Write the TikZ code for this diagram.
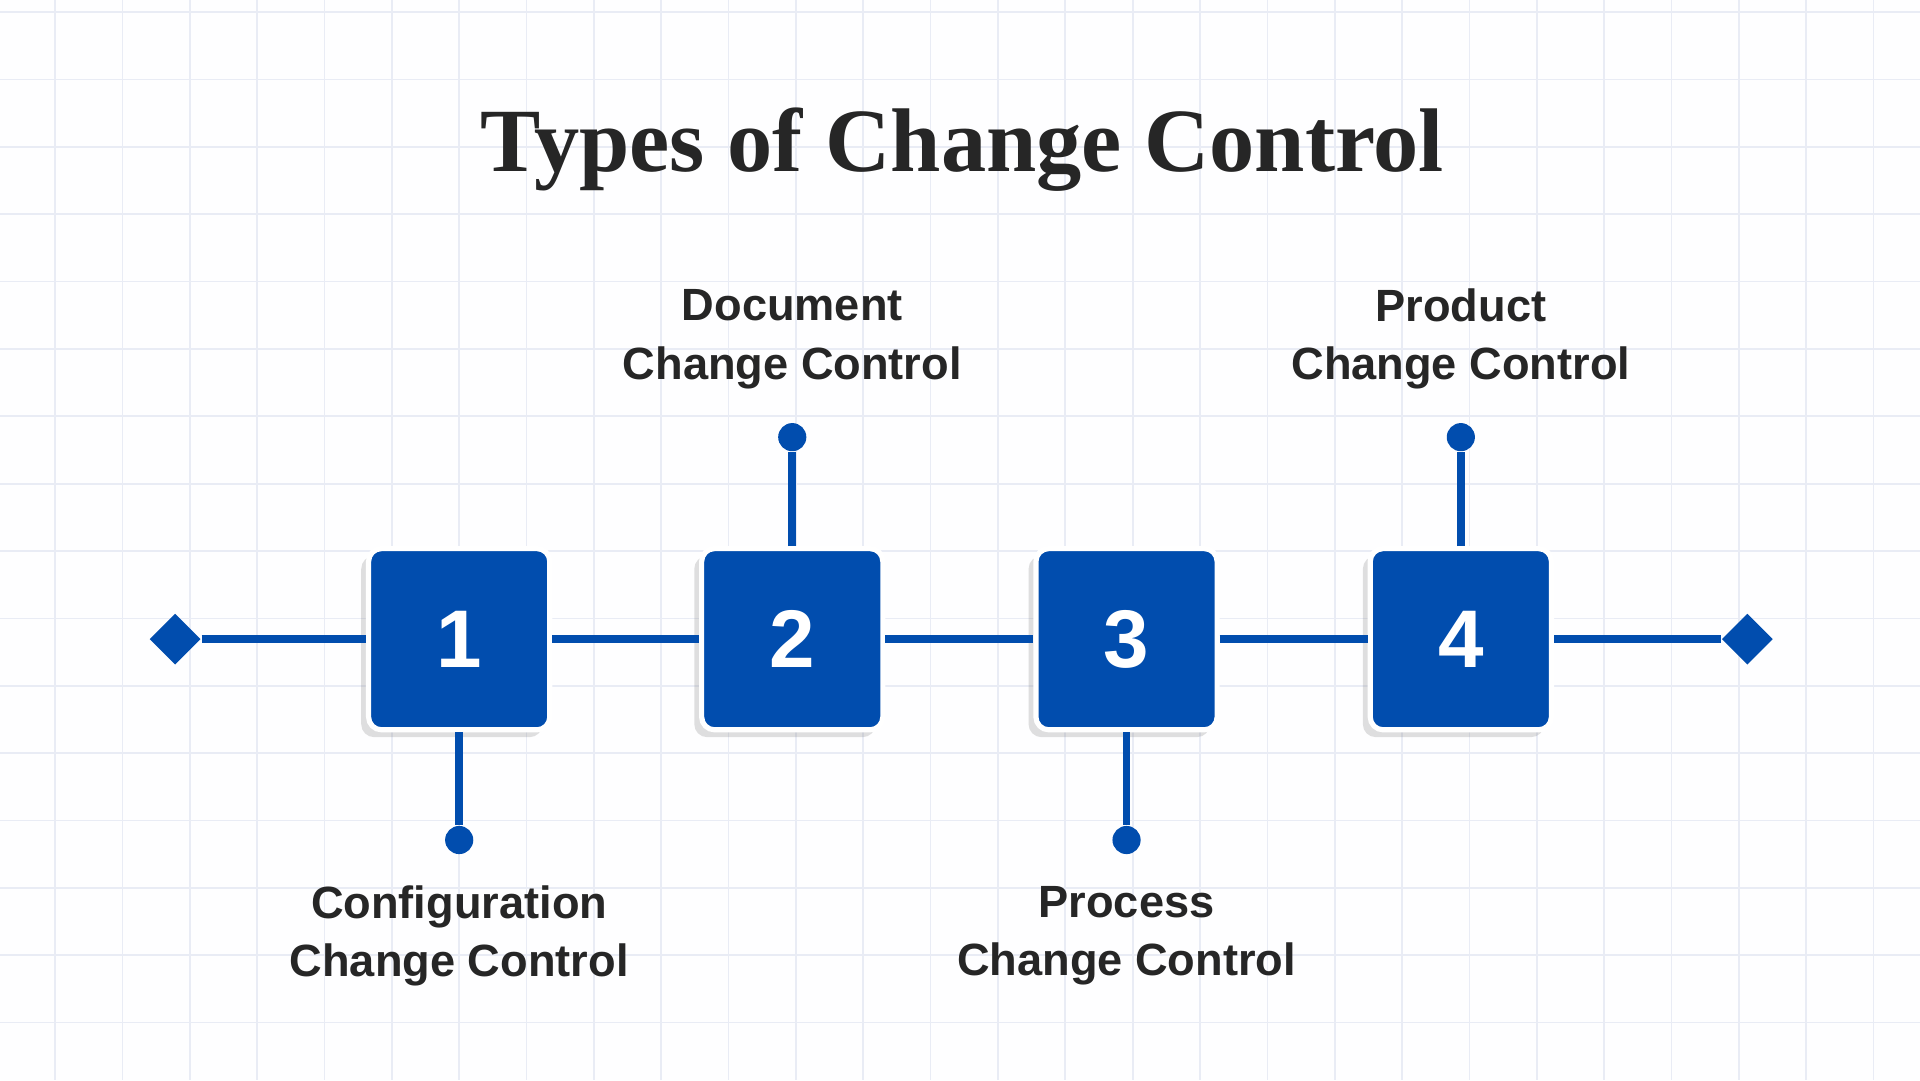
\documentclass[tikz,border=0pt]{standalone}
\usepackage{fontspec}
\setmainfont{Liberation Sans}
\newfontfamily\titlefont{Liberation Serif}
\usetikzlibrary{positioning}
\usetikzlibrary{shapes.geometric}
\usetikzlibrary{shadows}
\definecolor{stepblue}{HTML}{014DAE}
\definecolor{gridline}{HTML}{E9ECF5}

\tikzset{
  numbox/.style={draw=white, line width=1.2pt, fill=stepblue, rounded corners=3pt,
    minimum size=1.48cm, text=white, font=\fontsize{19}{21}\selectfont\bfseries,
    drop shadow={opacity=0.25, shadow xshift=-0.6mm, shadow yshift=-0.6mm}},
  stem/.style={draw=stepblue, line width=1.8pt},
  dot/.style={circle, fill=stepblue, inner sep=0pt, minimum size=0.23cm},
  tip/.style={diamond, fill=stepblue, inner sep=0pt, minimum size=0.42cm},
  steplabel/.style={align=center, font=\fontsize{10.5}{13.5}\selectfont\bfseries, text=black!85}
}

\begin{document}
\begin{tikzpicture}
    \fill[white!97!gridline] (0,0) rectangle (15.68,8.82);
    \useasboundingbox (0,0) rectangle (15.68,8.82);
    \foreach \x in {0.45,1.0,...,15.6} \draw[gridline, line width=0.4pt] (\x,0) -- (\x,8.82);
    \foreach \y in {0.47,1.02,...,8.8} \draw[gridline, line width=0.4pt] (0,\y) -- (15.68,\y);

    \node[font=\titlefont\fontsize{21}{24}\selectfont\bfseries, text=black!85] (title) at (7.86,7.60) {Types of Change Control};

    \node[tip] (left) at (1.43,3.60) {};
    \node[tip] (right) at (14.27,3.60) {};
    \node[numbox] (b1) at (3.75,3.60) {1};
    \node[numbox] (b2) at (6.47,3.60) {2};
    \node[numbox] (b3) at (9.20,3.60) {3};
    \node[numbox] (b4) at (11.93,3.60) {4};
    \draw[stem] (left) -- (b1) (b1) -- (b2) (b2) -- (b3) (b3) -- (b4) (b4) -- (right);

    \node[dot] (d1) at (3.75,1.96) {};
    \node[dot] (d2) at (6.47,5.25) {};
    \node[dot] (d3) at (9.20,1.96) {};
    \node[dot] (d4) at (11.93,5.25) {};
    \foreach \i in {1,...,4} \draw[stem] (b\i) -- (d\i);

    \node[steplabel] (l1) at (3.75,1.18) {Configuration\\Change Control};
    \node[steplabel] (l2) at (6.47,6.05) {Document\\Change Control};
    \node[steplabel] (l3) at (9.20,1.18) {Process\\Change Control};
    \node[steplabel] (l4) at (11.93,6.05) {Product\\Change Control};
\end{tikzpicture}
\end{document}
